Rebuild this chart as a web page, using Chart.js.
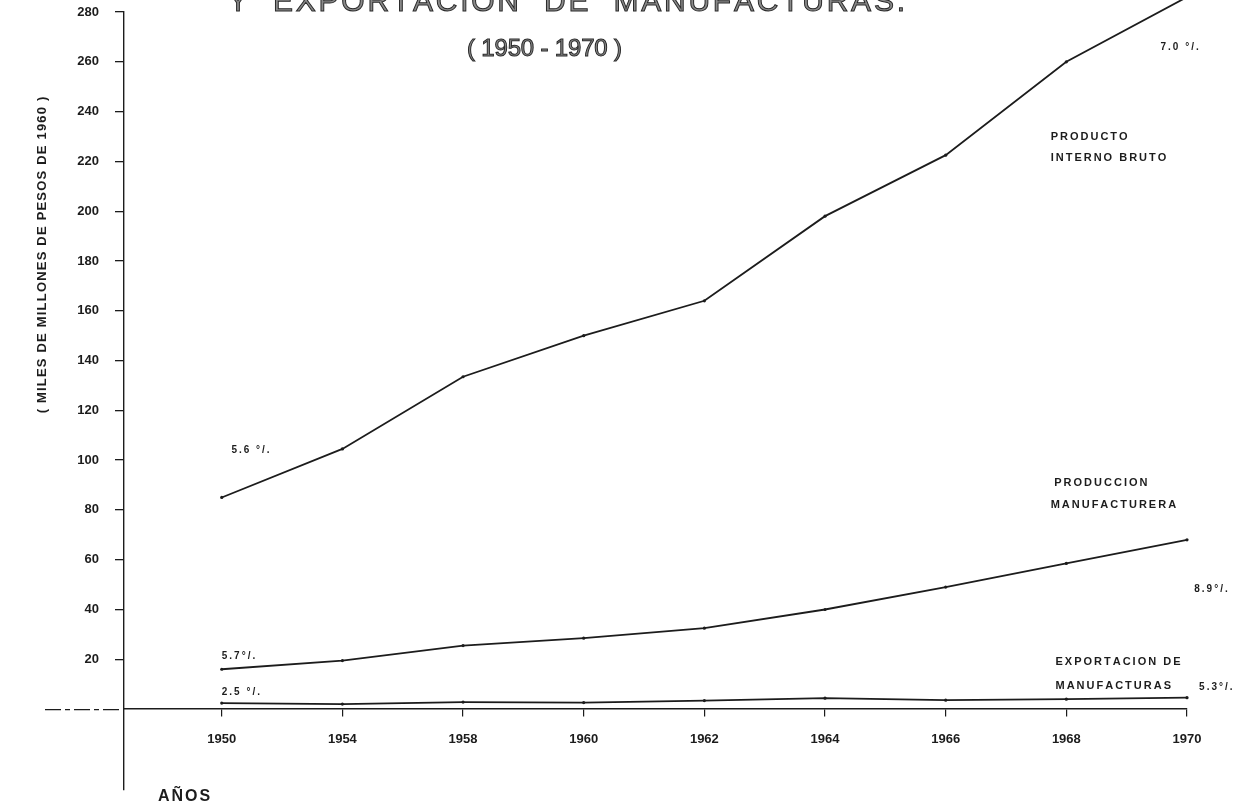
<!DOCTYPE html>
<html>
<head>
<meta charset="utf-8">
<script src="https://cdn.jsdelivr.net/npm/chart.js@4/dist/chart.umd.min.js"></script>
<style>
html, body { margin: 0; padding: 0; background: #fff; }
</style>
</head>
<body>
<canvas id="chart" width="1251" height="808"></canvas>
<script>
// Data ------------------------------------------------------------------------------

const YEARS = ['1950', '1954', '1958', '1960', '1962', '1964', '1966', '1968', '1970'];

const PIB = [85, 104.5, 133.5, 150, 164, 198, 222.5, 260, 286];
const PRODUCCION = [16, 19.5, 25.5, 28.5, 32.5, 40, 49, 58.5, 68];
const EXPORTACION = [2.4, 2.0, 2.8, 2.6, 3.4, 4.4, 3.6, 4.0, 4.6];

const Y_TICKS = [20, 40, 60, 80, 100, 120, 140, 160, 180, 200, 220, 240, 260, 280];

// Notes written on the sheet, placed in data units (x = year index, y = value)
const NOTES = [
    [0.08, 104, '5.6 °/.', 10],
    [7.78, 266, '7.0 °/.', 10],
    [6.87, 230, 'PRODUCTO', 11],
    [6.87, 221.5, 'INTERNO BRUTO', 11],
    [6.9, 91, 'PRODUCCION', 11],
    [6.87, 82, 'MANUFACTURERA', 11],
    [8.06, 48, '8.9°/.', 10],
    [6.91, 19, 'EXPORTACION DE', 11],
    [6.91, 9.4, 'MANUFACTURAS', 11],
    [8.1, 8.6, '5.3°/.', 10],
    [0.0, 21.3, '5.7°/.', 10],
    [0.0, 6.8, '2.5 °/.', 10]
];

// Helpers ----------------------------------------------------------------------------

const INK = '#1c1c1c';
const FONT = "'Liberation Sans', Arial, sans-serif";

const toPoints = function (values) {
    return values.map(function (v, i) { return {x: i, y: v}; });
};

// draw text char by char, with extra space between letters
const spacedText = function (ctx, text, x, y, spacing) {
    let cx = x;
    Array.from(text).forEach(function (c) {
        ctx.fillText(c, cx, y);
        cx += ctx.measureText(c).width + spacing;
    });
};

const spacedWidth = function (ctx, text, spacing) {
    let w = 0;
    Array.from(text).forEach(function (c) { w += ctx.measureText(c).width + spacing; });
    return w - spacing;
};

// fit text between two x positions
const fittedText = function (ctx, text, x0, x1, y, stroke) {
    const chars = Array.from(text);
    const natural = spacedWidth(ctx, text, 0);
    const gap = (x1 - x0 - natural) / (chars.length - 1);
    let cx = x0;
    chars.forEach(function (c) {
        ctx.fillText(c, cx, y);
        if (stroke) ctx.strokeText(c, cx, y);
        cx += ctx.measureText(c).width + gap;
    });
};

const lineDataset = function (label, values) {
    return {
        label: label,
        data: toPoints(values),
        borderColor: INK,
        borderWidth: 1.8,
        pointRadius: 1.6,
        pointBackgroundColor: INK,
        pointBorderWidth: 0,
        tension: 0,
        clip: false
    };
};

// Sheet decorations --------------------------------------------------------------------

const sheetPlugin = {
    id: 'sheet',
    afterDraw: function (chart) {
        const ctx = chart.ctx;
        const xs = chart.scales.x;
        const ys = chart.scales.y;
        const y0 = ys.getPixelForValue(0);

        ctx.save();

        // zero line runs on to the left of the vertical axis
        ctx.strokeStyle = INK;
        ctx.lineWidth = 1.3;
        ctx.setLineDash([16, 4, 5, 4]);
        ctx.beginPath();
        ctx.moveTo(45, y0 + 0.5);
        ctx.lineTo(chart.chartArea.left, y0 + 0.5);
        ctx.stroke();
        ctx.setLineDash([]);

        // titles
        ctx.textBaseline = 'alphabetic';
        ctx.textAlign = 'left';
        ctx.fillStyle = '#8a8a8a';
        ctx.strokeStyle = '#2a2a2a';
        ctx.lineWidth = 1;
        ctx.font = '30px ' + FONT;
        fittedText(ctx, 'Y  EXPORTACION  DE  MANUFACTURAS.', 228, 905, 11, true);
        ctx.font = '24px ' + FONT;
        fittedText(ctx, '( 1950 - 1970 )', 467, 622, 56, true);

        // vertical axis title
        ctx.fillStyle = INK;
        ctx.font = 'bold 13px ' + FONT;
        ctx.save();
        ctx.translate(42, 255);
        ctx.rotate(-Math.PI / 2);
        ctx.textBaseline = 'middle';
        const ytitle = '( MILES DE MILLONES DE PESOS DE 1960 )';
        const w = spacedWidth(ctx, ytitle, 1.2);
        spacedText(ctx, ytitle, -w / 2, 0, 1.2);
        ctx.restore();

        // horizontal axis word
        ctx.font = 'bold 16px ' + FONT;
        ctx.textBaseline = 'middle';
        spacedText(ctx, 'AÑOS', 158, 797, 2);

        // notes on the lines
        NOTES.forEach(function (n) {
            ctx.font = 'bold ' + n[3] + 'px ' + FONT;
            spacedText(ctx, n[2], xs.getPixelForValue(n[0]), ys.getPixelForValue(n[1]), 2);
        });

        ctx.restore();
    }
};

// Chart ------------------------------------------------------------------------------

new Chart(document.getElementById('chart').getContext('2d'), {
    type: 'line',
    data: {
        datasets: [
            lineDataset('Producto interno bruto', PIB),
            lineDataset('Produccion manufacturera', PRODUCCION),
            lineDataset('Exportacion de manufacturas', EXPORTACION)
        ]
    },
    options: {
        responsive: false,
        devicePixelRatio: 1,
        animation: false,
        layout: { padding: { top: 12, right: 64, bottom: 18, left: 0 } },
        plugins: {
            legend: { display: false },
            tooltip: { enabled: false }
        },
        scales: {
            x: {
                type: 'linear',
                min: -0.81,
                max: 8,
                position: { y: 0 },
                afterBuildTicks: function (scale) {
                    scale.ticks = YEARS.map(function (_, i) { return {value: i}; });
                },
                ticks: {
                    callback: function (v) { return YEARS[v]; },
                    font: { family: FONT, size: 13, weight: 'bold' },
                    color: INK,
                    padding: 16,
                    maxRotation: 0,
                    autoSkip: false
                },
                grid: { drawOnChartArea: false, tickLength: 7, color: INK, lineWidth: 1.2 },
                border: { color: INK, width: 1.4 }
            },
            y: {
                type: 'linear',
                min: -32.5,
                max: 280,
                afterBuildTicks: function (scale) {
                    scale.ticks = Y_TICKS.map(function (v) { return {value: v}; });
                },
                afterFit: function (scale) {
                    scale.width = 124;
                    scale.paddingTop = 0;
                    scale.paddingBottom = 0;
                },
                ticks: {
                    font: { family: FONT, size: 13, weight: 'bold' },
                    color: INK,
                    padding: 16
                },
                grid: { drawOnChartArea: false, tickLength: 9, color: INK, lineWidth: 1.3 },
                border: { color: INK, width: 1.4 }
            }
        }
    },
    plugins: [sheetPlugin]
});
</script>
</body>
</html>
